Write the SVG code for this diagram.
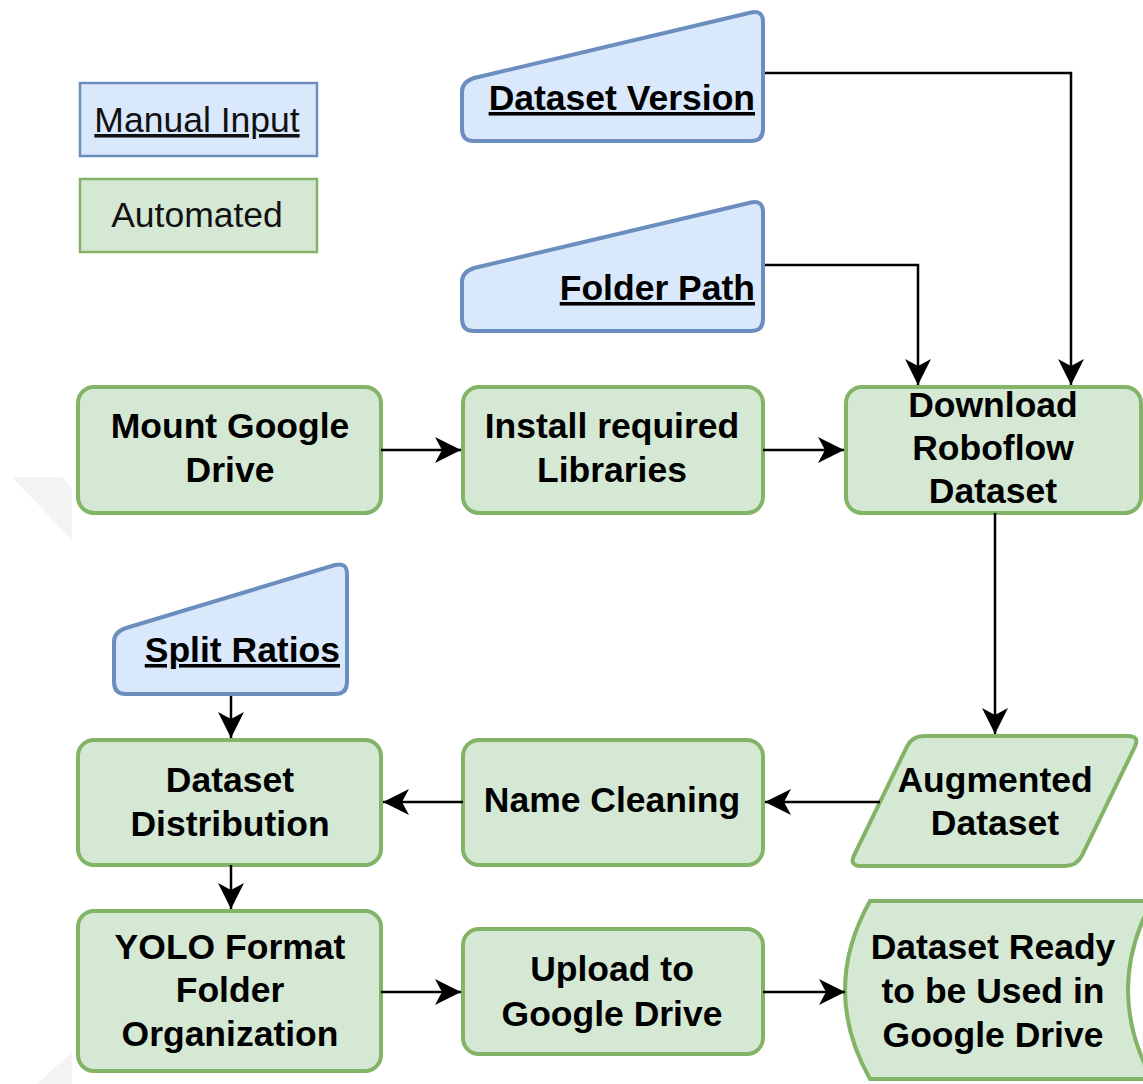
<svg xmlns="http://www.w3.org/2000/svg" width="1143" height="1084" viewBox="0 0 1143 1084">
<defs>
<style>
.auto{fill:#d5e8d4;stroke:#82b366;stroke-width:4}
.man{fill:#dae8fc;stroke:#6c8ebf;stroke-width:4}
.lbl{font-family:"Liberation Sans",Arial,sans-serif;font-size:35.5px;font-weight:bold;fill:#000;text-anchor:middle}
.ul{text-decoration:underline;text-anchor:end}
.leg{font-family:"Liberation Sans",Arial,sans-serif;font-size:35.5px;fill:#111;text-anchor:middle}
.edge{fill:none;stroke:#000;stroke-width:2.5}
</style>
<marker id="arr" markerUnits="userSpaceOnUse" markerWidth="30" markerHeight="30" viewBox="-2 -15 30 30" refX="26" refY="0" orient="auto">
<path d="M0,-13 L26,0 L0,13 L7,0 Z" fill="#000"/>
</marker>
</defs>
<rect width="1143" height="1084" fill="#fff"/>
<g id="watermark" fill="#f3f3f3">
<polygon points="12,477 62,477 72,490 72,540"/>
<polygon points="37,1084 72,1052 72,1084"/>
</g>
<g id="legend-manual">
<rect x="80" y="83" width="237" height="73" fill="#dae8fc" stroke="#6c8ebf" stroke-width="2.5"/>
<text class="leg" x="197" y="132" text-decoration="underline">Manual Input</text>
</g>
<g id="legend-automated">
<rect x="80" y="179" width="237" height="73" fill="#d5e8d4" stroke="#82b366" stroke-width="2.5"/>
<text class="leg" x="197" y="227">Automated</text>
</g>
<g id="dataset-version">
<path class="man" d="M462,92 Q462,82 474,78 L751,12.5 Q763,10 763,22 L763,129 Q763,141 751,141 L474,141 Q462,141 462,129 Z"/>
<text class="lbl ul" x="755" y="110">Dataset Version</text>
</g>
<g id="folder-path">
<path class="man" d="M462,282 Q462,272 474,268 L751,202.5 Q763,200 763,212 L763,319 Q763,331 751,331 L474,331 Q462,331 462,319 Z"/>
<text class="lbl ul" x="755" y="300">Folder Path</text>
</g>
<g id="split-ratios">
<path class="man" d="M114,642 Q114,632 126,628 L335,565 Q347,562 347,574 L347,682 Q347,694 335,694 L126,694 Q114,694 114,682 Z"/>
<text class="lbl ul" x="340" y="662">Split Ratios</text>
</g>
<g id="mount-drive">
<rect class="auto" x="78" y="387" width="303" height="126" rx="16"/>
<text class="lbl" x="230" y="438">Mount Google</text>
<text class="lbl" x="230" y="482">Drive</text>
</g>
<g id="install-libraries">
<rect class="auto" x="463" y="387" width="300" height="126" rx="16"/>
<text class="lbl" x="612" y="438">Install required</text>
<text class="lbl" x="612" y="482">Libraries</text>
</g>
<g id="download-dataset">
<rect class="auto" x="846" y="387" width="295" height="126" rx="16"/>
<text class="lbl" x="993" y="417">Download</text>
<text class="lbl" x="993" y="460">Roboflow</text>
<text class="lbl" x="993" y="503">Dataset</text>
</g>
<g id="augmented-dataset">
<path class="auto" d="M924,736 L1128,736 Q1140,736 1134.8,746.8 L1082.2,855.2 Q1077,866 1065,866 L861,866 Q849,866 854.2,855.2 L906.8,746.8 Q912,736 924,736 Z"/>
<text class="lbl" x="995" y="792">Augmented</text>
<text class="lbl" x="995" y="835">Dataset</text>
</g>
<g id="name-cleaning">
<rect class="auto" x="463" y="740" width="300" height="125" rx="16"/>
<text class="lbl" x="612" y="812">Name Cleaning</text>
</g>
<g id="dataset-distribution">
<rect class="auto" x="78" y="740" width="303" height="125" rx="16"/>
<text class="lbl" x="230" y="792">Dataset</text>
<text class="lbl" x="230" y="836">Distribution</text>
</g>
<g id="yolo-format">
<rect class="auto" x="78" y="911" width="303" height="160" rx="16"/>
<text class="lbl" x="230" y="959">YOLO Format</text>
<text class="lbl" x="230" y="1002">Folder</text>
<text class="lbl" x="230" y="1046">Organization</text>
</g>
<g id="upload-drive">
<rect class="auto" x="463" y="929" width="300" height="125" rx="16"/>
<text class="lbl" x="612" y="981">Upload to</text>
<text class="lbl" x="612" y="1026">Google Drive</text>
</g>
<g id="dataset-ready">
<path class="auto" d="M870,901 L1152,901 Q1104,990 1152,1079 L870,1079 Q820,990 870,901 Z"/>
<text class="lbl" x="993" y="959">Dataset Ready</text>
<text class="lbl" x="993" y="1003">to be Used in</text>
<text class="lbl" x="993" y="1047">Google Drive</text>
</g>
<g id="connectors">
<path class="edge" marker-end="url(#arr)" d="M765,73 H1071 V385"/>
<path class="edge" marker-end="url(#arr)" d="M765,265 H918 V385"/>
<path class="edge" marker-end="url(#arr)" d="M381,450 H461"/>
<path class="edge" marker-end="url(#arr)" d="M763,450 H844"/>
<path class="edge" marker-end="url(#arr)" d="M995,513 V734"/>
<path class="edge" marker-end="url(#arr)" d="M880,802 H765"/>
<path class="edge" marker-end="url(#arr)" d="M463,802 H383"/>
<path class="edge" marker-end="url(#arr)" d="M231,696 V738"/>
<path class="edge" marker-end="url(#arr)" d="M231,865 V909"/>
<path class="edge" marker-end="url(#arr)" d="M381,992 H461"/>
<path class="edge" marker-end="url(#arr)" d="M763,992 H845"/>
</g>
</svg>
